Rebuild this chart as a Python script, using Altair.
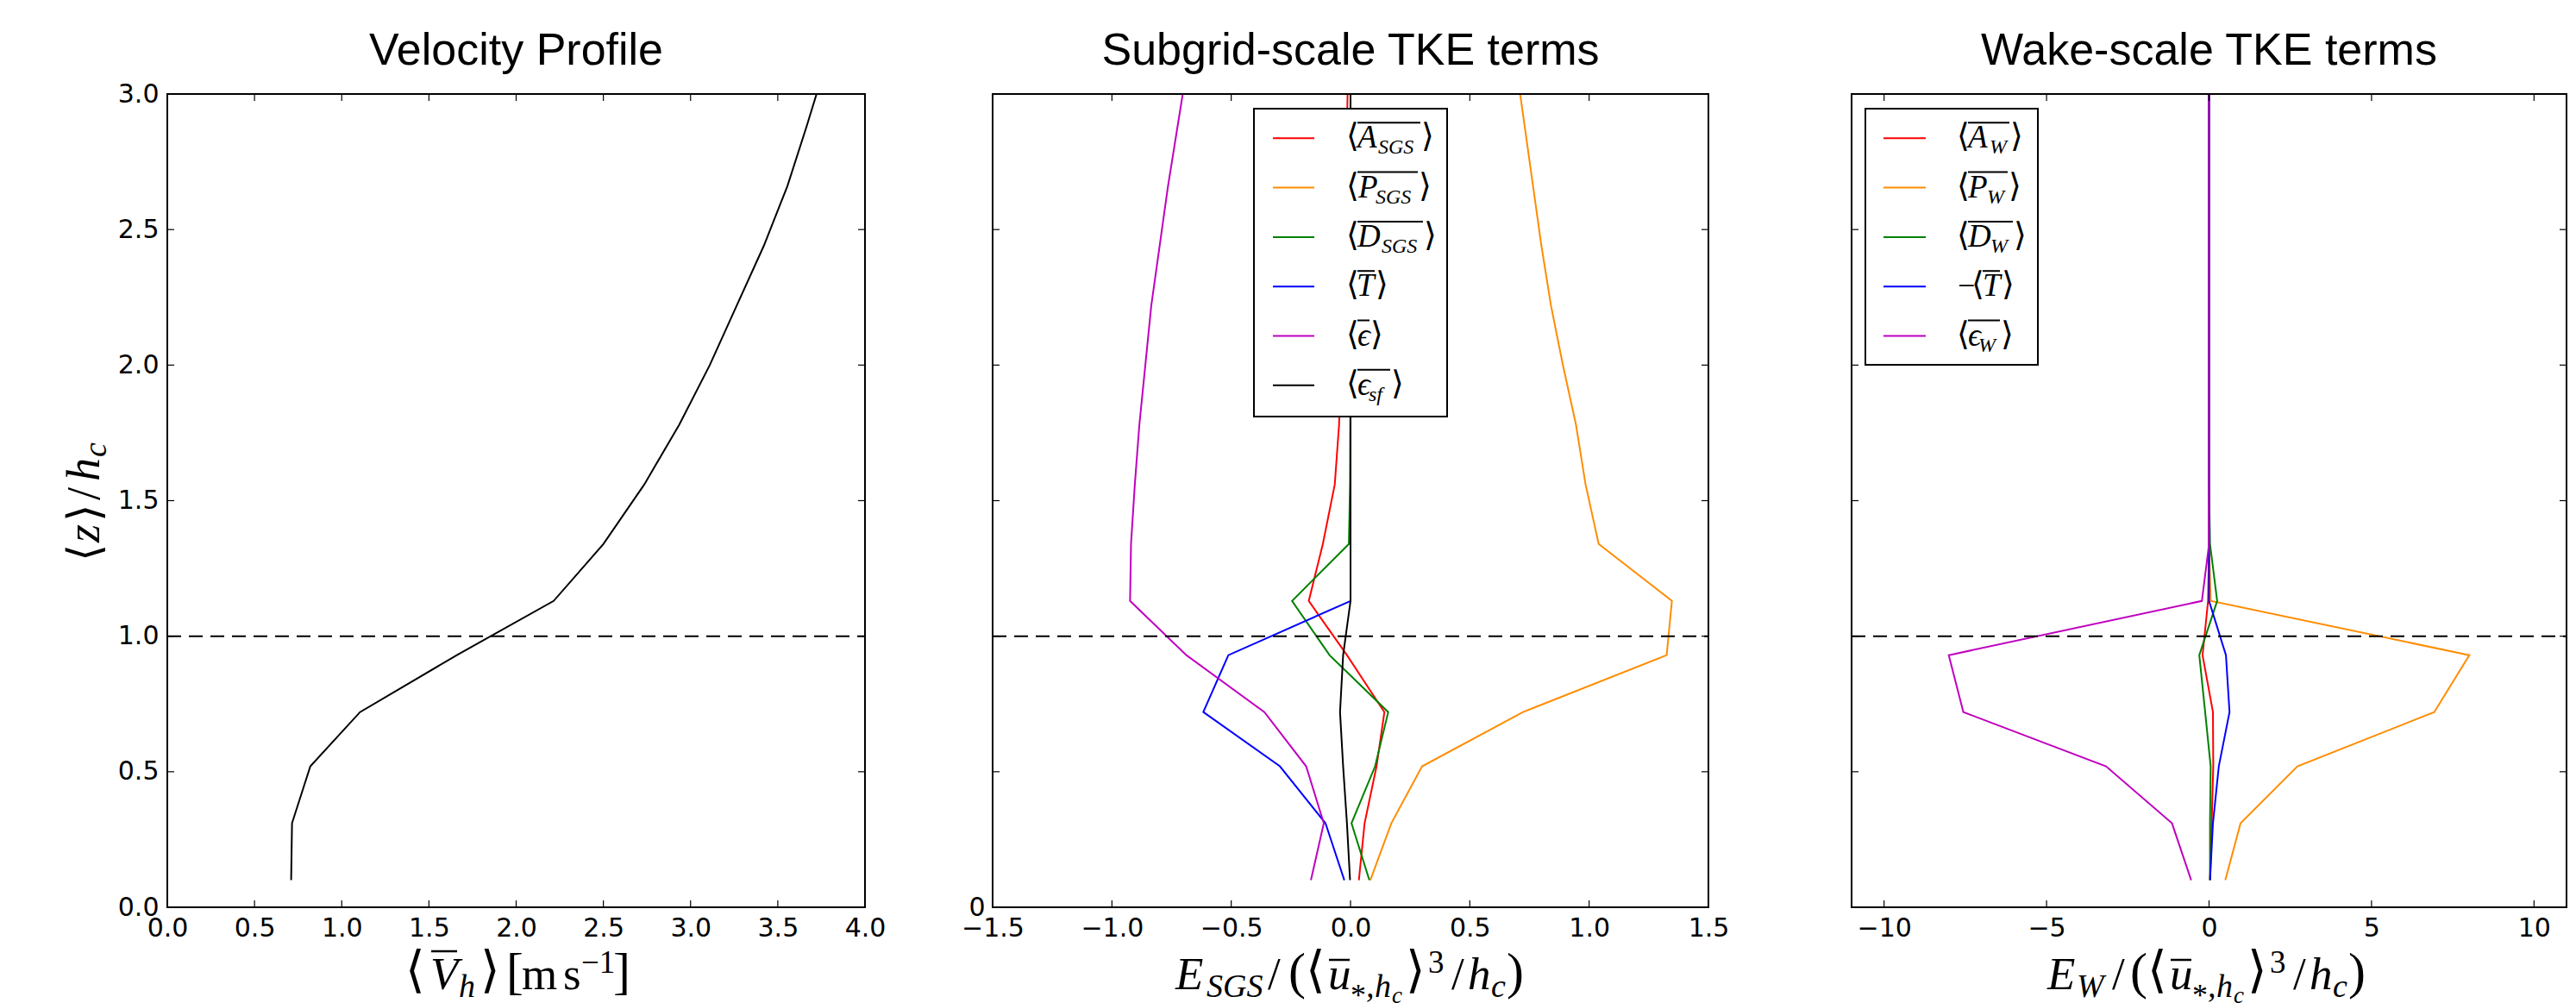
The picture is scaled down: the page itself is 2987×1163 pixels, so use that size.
import altair as alt
import pandas as pd

# ---------------------------------------------------------------- data
Z = [0.10, 0.31, 0.52, 0.72, 0.93, 1.13, 1.34, 1.56, 1.78, 2.00, 2.22, 2.44, 2.66, 2.88, 3.10]

V_H = [0.71, 0.715, 0.82, 1.105, 1.66, 2.215, 2.50, 2.735, 2.935, 3.11, 3.265, 3.42, 3.555, 3.665, 3.77]

SGS_A = [0.035, 0.059, 0.109, 0.142, -0.015, -0.175, -0.116, -0.066, -0.048, -0.040, -0.032, -0.025, -0.020, -0.015, -0.010]
SGS_P = [0.083, 0.171, 0.300, 0.723, 1.325, 1.347, 1.040, 0.985, 0.945, 0.890, 0.840, 0.800, 0.765, 0.730, 0.695]
SGS_D = [0.079, 0.004, 0.103, 0.158, -0.088, -0.245, -0.007, -0.002, -0.001, 0.0, 0.0, 0.0, 0.0, 0.0, 0.0]
SGS_T = [-0.026, -0.105, -0.296, -0.617, -0.512, 0.0, 0.0, 0.0, 0.0, 0.0, 0.0, 0.0, 0.0, 0.0, 0.0]
SGS_EPS = [-0.166, -0.112, -0.186, -0.361, -0.688, -0.924, -0.920, -0.904, -0.885, -0.860, -0.835, -0.800, -0.765, -0.725, -0.685]
SGS_EPS_SF = [-0.002, -0.015, -0.031, -0.044, -0.031, 0.0, 0.0, 0.0, 0.0, 0.0, 0.0, 0.0, 0.0, 0.0, 0.0]

W_A = [0.03, 0.08, 0.13, 0.12, -0.20, -0.03, 0.0, 0.0, 0.0, 0.0, 0.0, 0.0, 0.0, 0.0, 0.0]
W_P = [0.50, 0.97, 2.72, 6.93, 8.01, 0.05, 0.0, 0.0, 0.0, 0.0, 0.0, 0.0, 0.0, 0.0, 0.0]
W_D = [0.03, 0.03, 0.05, -0.12, -0.30, 0.25, 0.03, 0.0, 0.0, 0.0, 0.0, 0.0, 0.0, 0.0, 0.0]
W_T = [0.03, 0.12, 0.30, 0.63, 0.52, 0.0, 0.0, 0.0, 0.0, 0.0, 0.0, 0.0, 0.0, 0.0, 0.0]
W_EPS = [-0.55, -1.14, -3.17, -7.56, -8.01, -0.22, 0.0, 0.0, 0.0, 0.0, 0.0, 0.0, 0.0, 0.0, 0.0]

V_TICKS = [0.0, 0.5, 1.0, 1.5, 2.0, 2.5, 3.0, 3.5, 4.0]
Z_TICKS = [0.0, 0.5, 1.0, 1.5, 2.0, 2.5, 3.0]
SGS_TICKS = [-1.5, -1.0, -0.5, 0.0, 0.5, 1.0, 1.5]
W_TICKS = [-10, -5, 0, 5, 10]

TITLES = ["Velocity Profile", "Subgrid-scale TKE terms", "Wake-scale TKE terms"]
COLORS = ["#ff0000", "#ff8c00", "#008000", "#0000ff", "#bf00bf", "#000000"]

# ---------------------------------------------------------------- layout / style
P1_W, P2_W, P3_W = 809, 830, 829
OFF3 = 18
H = 943
GAP = 148
TICK = 8
SERIF = "Liberation Serif"
SANS = "DejaVu Sans"
BRK = "DejaVu Sans"
TFONT = "Liberation Sans"

ONE = pd.DataFrame({"k": [0]})

X1 = alt.Scale(domain=[0, 4], nice=False, zero=False)
X2S = alt.Scale(domain=[-1.5, 1.5], nice=False, zero=False)
X3_MIN = -11 - OFF3 * 22.0 / P3_W
X3 = alt.Scale(domain=[X3_MIN, 11], nice=False, zero=False)
YS = alt.Scale(domain=[0, 3], nice=False, zero=False)


def txt(s, x, y, size, style="normal", font=SERIF, angle=0, align="left"):
    props = dict(text=s, font=font, fontSize=size, fontStyle=style,
                 align=align, baseline="alphabetic", color="black")
    if angle:
        props["angle"] = angle
    return alt.Chart(ONE).mark_text(**props).encode(x=alt.value(x), y=alt.value(y))


def hbar(x1, x2, y, w=2.5, color="black"):
    return alt.Chart(ONE).mark_rule(color=color, strokeWidth=w).encode(
        x=alt.value(x1), x2=alt.value(x2), y=alt.value(y))


def box(x1, x2, y1, y2):
    return alt.Chart(ONE).mark_rect(fill="white", stroke="black", strokeWidth=2).encode(
        x=alt.value(x1), x2=alt.value(x2), y=alt.value(y1), y2=alt.value(y2))


class Panel:
    """Holds the scales and axes of one panel so every layer shares them identically."""

    def __init__(self, xs, xaxis, yaxis):
        self.xs, self.xaxis, self.yaxis = xs, xaxis, yaxis

    def X(self, field):
        return alt.X(field, scale=self.xs, axis=self.xaxis)

    def Y(self, field):
        return alt.Y(field, scale=YS, axis=self.yaxis)

    def XD(self, v):
        return alt.XDatum(v, type="quantitative", scale=self.xs, axis=self.xaxis)

    def YD(self, v):
        return alt.YDatum(v, type="quantitative", scale=YS, axis=self.yaxis)

    def line(self, vals, color):
        df = pd.DataFrame({"z": Z, "v": vals})
        return alt.Chart(df).mark_line(color=color, strokeWidth=2, clip=True).encode(
            x=self.X("v:Q"), y=self.Y("z:Q"), order=alt.Order("z:Q"))

    def ticks(self, xticks, left, right):
        tx = pd.DataFrame({"t": xticks})
        ty = pd.DataFrame({"t": Z_TICKS})
        st = dict(color="black", strokeWidth=1.2)
        return [
            alt.Chart(tx).mark_rule(**st).encode(x=self.X("t:Q"), y=alt.value(H), y2=alt.value(H - TICK)),
            alt.Chart(tx).mark_rule(**st).encode(x=self.X("t:Q"), y=alt.value(0), y2=alt.value(TICK)),
            alt.Chart(ty).mark_rule(**st).encode(y=self.Y("t:Q"), x=alt.value(left), x2=alt.value(left + TICK)),
            alt.Chart(ty).mark_rule(**st).encode(y=self.Y("t:Q"), x=alt.value(right - TICK), x2=alt.value(right)),
        ]

    def frame(self, xmin, xmax):
        return alt.Chart(ONE).mark_rect(filled=False, stroke="black", strokeWidth=2).encode(
            x=self.XD(xmin), x2=alt.X2Datum(xmax), y=self.YD(0), y2=alt.Y2Datum(3))

    def dash(self, xmin, xmax):
        return alt.Chart(ONE).mark_rule(color="black", strokeWidth=2, strokeDash=[16, 9]).encode(
            x=self.XD(xmin), x2=alt.X2Datum(xmax), y=self.YD(1.0))


AX = dict(labelFont=SANS, labelFontSize=30, labelColor="black", ticks=False,
          domain=False, grid=False, labelFlush=False, labelOverlap=False, title=None)

BASE = 1038  # baseline of x-axis titles (panel-local)
TBASE = -34  # baseline of panel titles (panel-local)


def math(parts, x0=0):
    out = []
    for s, x, kind in parts:
        x = x + x0
        if kind == "M":
            out.append(txt(s, x, BASE, 53, "italic"))
        elif kind == "R":
            out.append(txt(s, x, BASE, 53))
        elif kind == "S":
            out.append(txt(s, x, BASE + 9, 38, "italic"))
        elif kind == "AST":
            out.append(txt(s, x, BASE + 19, 36))
        elif kind == "SS":
            out.append(txt(s, x, BASE + 16, 27, "italic"))
        elif kind == "SUP":
            out.append(txt(s, x, BASE - 19, 37))
        elif kind == "BIG":
            out.append(txt(s, x, BASE - 3, 58, font=BRK))
        elif kind == "PAR":
            out.append(txt(s, x, BASE - 1, 60))
    return out


def tail(p):
    return [("(", p, "PAR"), ("⟨", p + 20, "BIG"), ("u", p + 46, "M"),
            ("*", p + 72, "AST"), (",", p + 90, "S"), ("h", p + 100, "S"), ("c", p + 120, "SS"),
            ("⟩", p + 136, "BIG"), ("3", p + 162, "SUP"), ("/", p + 189, "R"),
            ("h", p + 208, "M"), ("c", p + 235, "S"), (")", p + 253, "PAR")]


def legend_entry(S, yc, parts, bar):
    out = []
    for s, dx, kind in parts:
        x = S + dx
        if kind == "br":
            out.append(txt(s, x, yc + 10, 38, font=BRK))
        elif kind == "m":
            out.append(txt(s, x, yc + 11, 37, "italic"))
        elif kind == "s":
            out.append(txt(s, x, yc + 18, 24, "italic"))
        elif kind == "op":
            out.append(txt(s, x, yc + 11, 36))
    out.append(hbar(S + bar[0], S + bar[1], yc - 18, w=2))
    return out


def ttl(s, xc):
    return txt(s, xc, TBASE, 52, font=TFONT, align="center")


# ---------------------------------------------------------------- panel 1
P1 = Panel(X1, alt.Axis(values=V_TICKS, format=".1f", labelPadding=9, **AX),
           alt.Axis(values=Z_TICKS, format=".1f", labelPadding=10, **AX))

p1_layers = [P1.line(V_H, "black"), P1.dash(0, 4)] + P1.ticks(V_TICKS, 0, P1_W) + [P1.frame(0, 4)]
p1_layers += math([("⟨", 276, "BIG"), ("V", 305, "M"), ("h", 338, "S"), ("⟩", 363, "BIG"),
                   ("[", 393, "PAR"), ("m", 411, "R"), ("s", 459, "R"), ("−1", 480, "SUP"), ("]", 517, "PAR")])
p1_layers.append(hbar(306, 336, 994))
YB = -79
p1_layers += [txt("⟨", YB, 542, 52, font=BRK, angle=270), txt("z", YB, 520, 54, "italic", angle=270),
              txt("⟩", YB, 496, 52, font=BRK, angle=270), txt("/", YB, 471, 54, angle=270),
              txt("h", YB, 449, 54, "italic", angle=270), txt("c", YB + 8, 421, 38, "italic", angle=270)]
p1_layers.append(ttl(TITLES[0], P1_W / 2))
# invisible anchor fixing the page origin
p1_layers.append(alt.Chart(ONE).mark_rule(color="white", strokeWidth=1).encode(
    x=alt.value(-184.5), x2=alt.value(-183.5), y=alt.value(-99.5)))
p1 = alt.layer(*p1_layers).properties(width=P1_W, height=H)

# ---------------------------------------------------------------- panel 2
P2 = Panel(X2S, alt.Axis(values=SGS_TICKS, format=".1f", labelPadding=9, **AX),
           alt.Axis(values=Z_TICKS, labelExpr="datum.value === 0 ? '0' : ''", labelPadding=9, **AX))

p2_layers = [P2.line(v, c) for v, c in zip([SGS_A, SGS_P, SGS_D, SGS_T, SGS_EPS, SGS_EPS_SF], COLORS)]
p2_layers += [P2.dash(-1.5, 1.5)] + P2.ticks(SGS_TICKS, 0, P2_W)
p2_layers.append(box(303, 527, 17, 374))
S2 = 410
LEG2 = [
    ([("⟨", 0, "br"), ("A", 13, "m"), ("SGS", 37, "s"), ("⟩", 87, "br")], (13, 86)),
    ([("⟨", 0, "br"), ("P", 14, "m"), ("SGS", 34, "s"), ("⟩", 84, "br")], (13, 83)),
    ([("⟨", 0, "br"), ("D", 13, "m"), ("SGS", 41, "s"), ("⟩", 90, "br")], (13, 89)),
    ([("⟨", 0, "br"), ("T", 12, "m"), ("⟩", 34, "br")], (13, 33)),
    ([("⟨", 0, "br"), ("ϵ", 13, "m"), ("⟩", 28, "br")], (13, 27)),
    ([("⟨", 0, "br"), ("ϵ", 13, "m"), ("sf", 26, "s"), ("⟩", 52, "br")], (13, 51)),
]
for i, (parts, bar) in enumerate(LEG2):
    yc = 51.3 + 57.3 * i
    p2_layers.append(hbar(325, 373, yc, w=2, color=COLORS[i]))
    p2_layers += legend_entry(S2, yc, parts, bar)
p2_layers.append(P2.frame(-1.5, 1.5))
p2_layers += math([("E", 212, "M"), ("SGS", 248, "S"), ("/", 319, "R")] + tail(343))
p2_layers.append(hbar(390, 414, 1004))
p2_layers.append(ttl(TITLES[1], P2_W / 2))
p2 = alt.layer(*p2_layers).properties(width=P2_W, height=H)

# ---------------------------------------------------------------- panel 3
P3 = Panel(X3, alt.Axis(values=W_TICKS, format="d", labelPadding=9, **AX), None)

p3_layers = [P3.line(v, c) for v, c in zip([W_A, W_P, W_D, W_T, W_EPS], COLORS[:5])]
p3_layers += [P3.dash(-11, 11)] + P3.ticks(W_TICKS, OFF3, OFF3 + P3_W)
p3_layers.append(box(OFF3 + 16, OFF3 + 216, 17, 314))
S3 = OFF3 + 122
LEG3 = [
    ([("⟨", 0, "br"), ("A", 13, "m"), ("W", 38, "s"), ("⟩", 62, "br")], (13, 61)),
    ([("⟨", 0, "br"), ("P", 13, "m"), ("W", 35, "s"), ("⟩", 60, "br")], (13, 59)),
    ([("⟨", 0, "br"), ("D", 13, "m"), ("W", 39, "s"), ("⟩", 66, "br")], (13, 65)),
    ([("−", 1, "op"), ("⟨", 17, "br"), ("T", 30, "m"), ("⟩", 52, "br")], (30, 50)),
    ([("⟨", 0, "br"), ("ϵ", 13, "m"), ("W", 25, "s"), ("⟩", 51, "br")], (13, 50)),
]
for i, (parts, bar) in enumerate(LEG3):
    yc = 51.3 + 57.3 * i
    p3_layers.append(hbar(OFF3 + 37, OFF3 + 86, yc, w=2, color=COLORS[i]))
    p3_layers += legend_entry(S3, yc, parts, bar)
p3_layers.append(P3.frame(-11, 11))
p3_layers += math([("E", 227, "M"), ("W", 261, "S"), ("/", 302, "R")] + tail(323), x0=OFF3)
p3_layers.append(hbar(OFF3 + 370, OFF3 + 394, 1004))
p3_layers.append(ttl(TITLES[2], OFF3 + P3_W / 2))
p3 = alt.layer(*p3_layers).properties(width=P3_W + OFF3, height=H)

# ---------------------------------------------------------------- compose
chart = alt.hconcat(p1, p2, p3, spacing=GAP, bounds="flush").properties(
    padding={"left": 0, "top": 0, "right": 0, "bottom": 0}
).configure_view(stroke="transparent")

chart.save("out.html", embed_options={"renderer": "svg", "actions": False})
